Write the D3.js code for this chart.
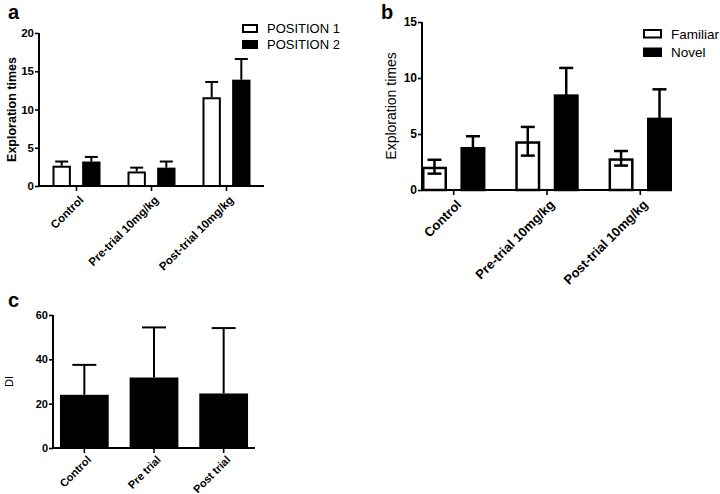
<!DOCTYPE html>
<html><head><meta charset="utf-8">
<script src="https://cdn.jsdelivr.net/npm/d3@7"></script>
<style>body{margin:0;background:#fff}svg{display:block}text{font-family:"Liberation Sans",Arial,sans-serif}</style>
</head><body><svg id="c" width="720" height="494"></svg>
<script>
// Panel a
const catsA = ["Control", "Pre-trial 10mg/kg", "Post-trial 10mg/kg"];
const seriesA = ["POSITION 1", "POSITION 2"];
const pos1Mean = [2.65, 1.9, 11.6];
const pos1Err = [0.55, 0.5, 2.0];
const pos2Mean = [3.2, 2.4, 13.9];
const pos2Err = [0.6, 0.8, 2.7];
const ticksA = [0, 5, 10, 15, 20];
// Panel b
const catsB = ["Control", "Pre-trial 10mg/kg", "Post-trial 10mg/kg"];
const seriesB = ["Familiar", "Novel"];
const famMean = [2.08, 4.35, 2.83];
const famErr = [0.62, 1.28, 0.65];
const novMean = [3.84, 8.54, 6.46];
const novErr = [0.96, 2.36, 2.53];
const ticksB = [0, 5, 10, 15];
// Panel c
const catsC = ["Control", "Pre trial", "Post trial"];
const diMean = [24.0, 31.8, 24.6];
const diErr = [13.5, 22.6, 29.5];
const ticksC = [0, 20, 40, 60];

const svg = d3.select("#c");

function panel(o) {
  const g = svg.append("g");
  const y = d3.scaleLinear().domain(o.domain).range([o.y0, o.y1]);
  const x = d3.scaleBand().domain(o.cats).range([o.x0, o.x1]).paddingInner(o.padIn).paddingOuter(o.padOut);
  const xs = d3.scaleBand().domain(d3.range(o.series.length)).range([0, x.bandwidth()]).paddingInner(o.subPad);
  o.series.forEach((s, si) => {
    const gs = g.append("g");
    o.cats.forEach((c, ci) => {
      const m = s.mean[ci], e = s.err[ci];
      const bx = x(c) + xs(si), bw = xs.bandwidth();
      const cx = bx + bw / 2;
      const lo = o.both ? m - e : m;
      gs.append("line").attr("x1", cx).attr("x2", cx).attr("y1", y(lo)).attr("y2", y(m + e))
        .attr("stroke", "#000").attr("stroke-width", o.ew);
      gs.append("line").attr("x1", cx - o.cap / 2).attr("x2", cx + o.cap / 2).attr("y1", y(m + e)).attr("y2", y(m + e))
        .attr("stroke", "#000").attr("stroke-width", o.ew);
      if (o.both) gs.append("line").attr("x1", cx - o.cap / 2).attr("x2", cx + o.cap / 2).attr("y1", y(lo)).attr("y2", y(lo))
        .attr("stroke", "#000").attr("stroke-width", o.ew);
      const rect = gs.append("rect").attr("x", bx + o.bs / 2).attr("y", y(m) + o.bs / 2)
        .attr("width", bw - o.bs).attr("height", Math.max(0, y(0) - y(m) - o.bs / 2))
        .attr("stroke", "#000").attr("stroke-width", o.bs);
      if (s.fill === "#fff") { rect.attr("fill", "none"); rect.lower(); }
      else rect.attr("fill", "#000").lower();
    });
  });
  const ya = g.append("g").attr("transform", `translate(${o.x0},0)`)
    .call(d3.axisLeft(y).tickValues(o.ticks).tickSize(o.tick).tickSizeOuter(0).tickPadding(1));
  ya.select(".domain").attr("stroke-width", o.aw).attr("d", `M0,${o.y0 + o.aw/2}V${o.y1}`);
  ya.selectAll(".tick line").attr("stroke-width", o.aw * 0.8);
  ya.selectAll("text").attr("font-size", o.tfs).attr("font-weight", "bold").attr("fill", "#000").attr("font-family", '"Liberation Sans",Arial,sans-serif');
  const xa = g.append("g").attr("transform", `translate(0,${o.y0})`)
    .call(d3.axisBottom(x).tickSize(o.tick + 1).tickSizeOuter(0).tickFormat(""));
  xa.select(".domain").attr("stroke-width", o.aw).attr("d", `M${o.x0},0H${o.xEnd}`);
  xa.selectAll(".tick line").attr("stroke-width", o.aw * 0.8);
  o.cats.forEach(c => {
    g.append("text").attr("transform", `translate(${x(c) + x.bandwidth() / 2 + 2},${o.y0 + o.tick + o.xlo}) rotate(-45)`)
      .attr("text-anchor", "end").attr("dy", "0.7em").attr("font-size", o.xfs).attr("font-weight", "bold").text(c);
  });
  g.append("text").attr("transform", `translate(${o.ylx},${(o.y0 + o.y1) / 2 + o.yloff}) rotate(-90)`)
    .attr("text-anchor", "middle").attr("font-size", o.ylfs).attr("font-weight", o.ylw).text(o.ylabel);
  g.append("text").attr("x", o.lx).attr("y", o.ly).attr("font-size", 20).attr("font-weight", "bold").text(o.letter);
  if (o.legend) {
    o.series.forEach((s, si) => {
      const ly = o.legend.y + si * o.legend.dy;
      g.append("rect").attr("x", o.legend.x + 1).attr("y", ly + 1).attr("width", o.legend.w - 2).attr("height", o.legend.h - 2)
        .attr("fill", s.fill).attr("stroke", "#000").attr("stroke-width", 2);
      g.append("text").attr("x", o.legend.x + o.legend.w + 9).attr("y", ly + o.legend.h / 2).attr("dy", "0.36em")
        .attr("font-size", o.legend.fs).text(s.name);
    });
  }
}

panel({
  cats: catsA, domain: [0, 20], ticks: ticksA,
  series: [{ name: seriesA[0], mean: pos1Mean, err: pos1Err, fill: "#fff" }, { name: seriesA[1], mean: pos2Mean, err: pos2Err, fill: "#000" }],
  x0: 39, x1: 264, xEnd: 264, y0: 186, y1: 33, padIn: 0.36, padOut: 0.18, subPad: 0.38,
  both: false, ew: 2, cap: 13, bs: 2, aw: 2, tick: 4, tfs: 11.5, xfs: 11.5, xlo: 5,
  ylx: 16, yloff: 0, ylfs: 12.5, ylw: "bold", ylabel: "Exploration times",
  lx: 8, ly: 19, letter: "a",
  legend: { x: 242, y: 24, dy: 16, w: 16, h: 9, fs: 13 }
});
panel({
  cats: catsB, domain: [0, 15], ticks: ticksB,
  series: [{ name: seriesB[0], mean: famMean, err: famErr, fill: "#fff" }, { name: seriesB[1], mean: novMean, err: novErr, fill: "#000" }],
  x0: 422, x1: 672, xEnd: 672, y0: 190, y1: 22, padIn: 0.32, padOut: 0.0, subPad: 0.35,
  both: true, ew: 2.5, cap: 14, bs: 2.5, aw: 2, tick: 4, tfs: 12, xfs: 13, xlo: 5,
  ylx: 396, yloff: 0, ylfs: 14, ylw: "normal", ylabel: "Exploration times",
  lx: 381, ly: 19, letter: "b",
  legend: { x: 643, y: 29, dy: 18.5, w: 19, h: 9.5, fs: 13.5 }
});
panel({
  cats: catsC, domain: [0, 60], ticks: ticksC,
  series: [{ name: "DI", mean: diMean, err: diErr, fill: "#000" }],
  x0: 53, x1: 255, xEnd: 255, y0: 448, y1: 315, padIn: 0.3, padOut: 0.1, subPad: 0,
  both: false, ew: 2, cap: 24, bs: 0, aw: 2, tick: 4, tfs: 11, xfs: 11, xlo: 3,
  ylx: 13, yloff: 0, ylfs: 11, ylw: "normal", ylabel: "DI",
  lx: 8, ly: 307, letter: "c", legend: null
});
</script></body></html>
